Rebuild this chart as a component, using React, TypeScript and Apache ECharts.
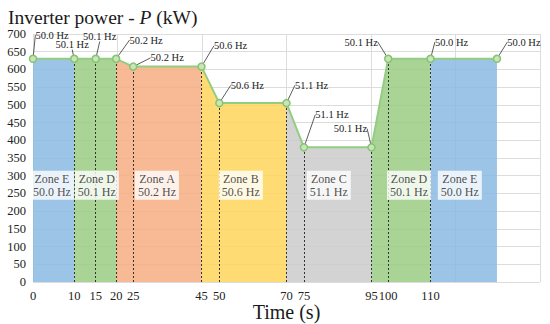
import React, { useEffect, useRef } from "react";
import * as echarts from "echarts";

// Measured event times (positions along the time axis) and their printed tick labels
const times = [0, 11.1, 16.9, 22.4, 27.0, 45.4, 50.2, 68.3, 73.0, 91.2, 95.7, 107.1, 125];
const timeTickLabels = ["0", "10", "15", "20", "25", "45", "50", "70", "75", "95", "100", "110", "125"];
const powerKW = [630, 630, 630, 630, 608, 608, 505, 505, 380, 380, 630, 630, 630];
const freqLabels = [
  "50.0 Hz", "50.1 Hz", "50.1 Hz", "50.2 Hz", "50.2 Hz", "50.6 Hz", "50.6 Hz",
  "51.1 Hz", "51.1 Hz", "50.1 Hz", "50.1 Hz", "50.0 Hz", "50.0 Hz",
];

const zoneNames = ["Zone E", "Zone D", "Zone A", "Zone B", "Zone C", "Zone D", "Zone E"];
const zoneFreqs = ["50.0 Hz", "50.1 Hz", "50.2 Hz", "50.6 Hz", "51.1 Hz", "50.1 Hz", "50.0 Hz"];
const zoneStartIdx = [0, 1, 3, 5, 7, 9, 11];
const zoneEndIdx = [1, 3, 5, 7, 9, 11, 12];
const zoneLabelTime = [5.1, 17.2, 33.4, 56.0, 79.7, 101.3, 115.0];
const zoneLabelPower = 273;
const dashedIdx = [1, 2, 3, 4, 5, 6, 7, 8, 9, 10, 11];

// styling
const zoneColors = ["#8bbae2", "#9acc83", "#f7ae81", "#ffd65a", "#cbcbcb", "#9acc83", "#8bbae2"];
const labelDx = [19, -2, 4, 30, 34, 29, 28, 25, 28, -21, -27, 21, 27];
const labelDy = [-9, 0, -8, -4, 6, -6, -3, -3, -18, -4, -2, -2, -2];

const X_MAX = 136.6;
const FONT = "Liberation Serif";

export default function App() {
  const ref = useRef<HTMLDivElement>(null);
  useEffect(() => {
    if (!ref.current) return;
    const chart = echarts.init(ref.current, undefined, { renderer: "svg" });
    const points = times.map((t, i) => [t, powerKW[i]]);

    const areaSeries = zoneNames.map((name, z) => ({
      type: "line",
      name: name + z,
      xAxisIndex: 0,
      data: points.slice(zoneStartIdx[z], zoneEndIdx[z] + 1),
      showSymbol: false,
      symbol: "none",
      silent: true,
      lineStyle: { width: 0, opacity: 0 },
      areaStyle: { color: zoneColors[z], opacity: 0.85 },
      z: 1,
    }));

    const option: any = {
      animation: false,
      textStyle: { fontFamily: FONT },
      grid: { left: 33, right: 10, top: 34, bottom: 42, containLabel: false, outerBoundsMode: "none" },
      title: {
        left: 3,
        top: 2,
        text: "{n|Inverter power - }{i|P}{n| (kW)}",
        textStyle: {
          fontWeight: "normal",
          rich: {
            n: { fontFamily: FONT, fontSize: 19.5, fontWeight: "normal", color: "#1a1a1a" },
            i: { fontFamily: FONT, fontSize: 19.5, fontWeight: "normal", fontStyle: "italic", color: "#1a1a1a" },
          },
        },
      },
      xAxis: [
        {
          type: "value",
          min: 0,
          max: X_MAX,
          axisLine: { show: false },
          axisTick: { show: false },
          splitLine: { show: false },
          axisLabel: {
            customValues: times,
            formatter: (v: number) => {
              const i = times.findIndex((t) => Math.abs(t - v) < 1e-6);
              return i >= 0 ? timeTickLabels[i] : "";
            },
            fontFamily: FONT,
            fontSize: 12.5,
            color: "#222",
            margin: 7,
            showMaxLabel: false,
          },
          name: "Time (s)",
          nameLocation: "middle",
          nameGap: 20,
          nameMoveOverlap: false,
          nameTextStyle: { fontFamily: FONT, fontSize: 20, color: "#1a1a1a", verticalAlign: "top" },
        },
        {
          type: "value",
          min: 0,
          max: X_MAX,
          interval: X_MAX / 6,
          position: "bottom",
          axisLine: { show: false },
          axisTick: { show: false },
          axisLabel: { show: false },
          splitLine: { show: true, lineStyle: { color: "#dcdcdc", width: 1 } },
        },
      ],
      yAxis: {
        type: "value",
        min: 0,
        max: 700,
        interval: 50,
        axisLine: { show: false },
        axisTick: { show: false },
        splitLine: { lineStyle: { color: "#dcdcdc", width: 1 } },
        axisLabel: { fontFamily: FONT, fontSize: 12.5, color: "#222", margin: 7 },
      },
      series: [
        ...areaSeries,
        {
          type: "line",
          name: "power",
          xAxisIndex: 0,
          data: points,
          z: 5,
          symbol: "circle",
          symbolSize: 7,
          lineStyle: { color: "#93cd82", width: 2 },
          itemStyle: { color: "#c9e5b8", borderColor: "#86c373", borderWidth: 1.5 },
          label: {
            show: true,
            position: "top",
            formatter: (p: any) => freqLabels[p.dataIndex],
            fontFamily: FONT,
            fontSize: 10.5,
            color: "#222",
          },
          labelLine: { show: true, lineStyle: { color: "#333", width: 0.8 } },
          labelLayout: (p: any) => ({ dx: labelDx[p.dataIndex], dy: labelDy[p.dataIndex] }),
          markLine: {
            silent: true,
            symbol: "none",
            label: { show: false },
            lineStyle: { color: "#333", type: [2, 2], width: 1 },
            data: dashedIdx.map((i) => [{ coord: [times[i], 0] }, { coord: [times[i], powerKW[i]] }]),
          },
        },
        {
          type: "scatter",
          name: "zones",
          xAxisIndex: 0,
          data: zoneLabelTime.map((t) => [t, zoneLabelPower]),
          symbolSize: 1,
          itemStyle: { color: "rgba(0,0,0,0)" },
          z: 6,
          silent: true,
          label: {
            show: true,
            position: "inside",
            formatter: (p: any) => zoneNames[p.dataIndex] + "\n" + zoneFreqs[p.dataIndex],
            fontFamily: FONT,
            fontSize: 12,
            lineHeight: 13,
            color: "#222",
            align: "center",
            backgroundColor: "#ffffff",
            padding: [2, 3, 1, 3],
          },
        },
      ],
    };
    chart.setOption(option);
    return () => chart.dispose();
  }, []);
  return (
    <div
      ref={ref}
      style={{ position: "absolute", left: 0, top: 0, width: 550, height: 324, background: "#fff" }}
    />
  );
}
